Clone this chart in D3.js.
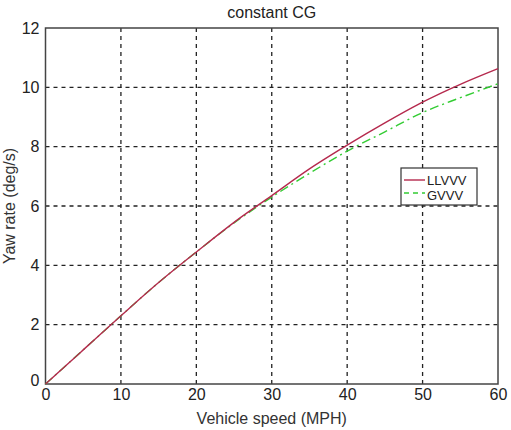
<!DOCTYPE html>
<html>
<head>
<meta charset="utf-8">
<script src="https://cdn.jsdelivr.net/npm/d3@7"></script>
<style>
body { margin: 0; background: #fff; }
</style>
</head>
<body>
<div id="chart"></div>
<script>
const speed = [0, 5, 10, 15, 20, 25, 30, 35, 40, 45, 50, 55, 60];
const llvvv = [0, 1.15, 2.3, 3.42, 4.45, 5.45, 6.35, 7.25, 8.05, 8.8, 9.5, 10.1, 10.63];
const gvvv = [0, 1.15, 2.3, 3.42, 4.45, 5.43, 6.3, 7.1, 7.85, 8.5, 9.15, 9.65, 10.12];
const xTicks = [0, 10, 20, 30, 40, 50, 60];
const yTicks = [0, 2, 4, 6, 8, 10, 12];

const W = 511, H = 430;
const margin = { top: 28, right: 13, bottom: 46, left: 45.5 },
	width = W - margin.left - margin.right,
	height = H - margin.top - margin.bottom;

const svg = d3.select("#chart").append("svg")
	.attr("width", W).attr("height", H)
	.style("font-family", "Arial, 'Liberation Sans', sans-serif");

const g = svg.append("g").attr("transform", `translate(${margin.left},${margin.top})`);

const x = d3.scaleLinear().domain([0, 60]).range([0, width]);
const y = d3.scaleLinear().domain([0, 12]).range([height, 0]);

// grid
g.append("g").selectAll("line").data(xTicks.slice(1, -1)).enter().append("line")
	.attr("x1", d => x(d)).attr("x2", d => x(d)).attr("y1", 0).attr("y2", height)
	.attr("stroke", "#222").attr("stroke-width", 1.3).attr("stroke-dasharray", "4,4");
g.append("g").selectAll("line").data(yTicks.slice(1, -1)).enter().append("line")
	.attr("y1", d => y(d)).attr("y2", d => y(d)).attr("x1", 0).attr("x2", width)
	.attr("stroke", "#222").attr("stroke-width", 1.3).attr("stroke-dasharray", "4,4");

// axes
const xAxis = g.append("g").attr("transform", `translate(0,${height})`)
	.call(d3.axisBottom(x).tickValues(xTicks).tickSize(0).tickPadding(5));
const yAxis = g.append("g")
	.call(d3.axisLeft(y).tickValues(yTicks).tickSize(0).tickPadding(6));
[xAxis, yAxis].forEach(a => {
	a.select(".domain").remove();
	a.selectAll("text").style("font-size", "16px").attr("fill", "#222");
});
yAxis.selectAll("text").filter(d => d === 0).attr("dy", "0.1em");

g.append("rect").attr("width", width).attr("height", height)
	.attr("fill", "none").attr("stroke", "#444").attr("stroke-width", 1.5);

// series
const line = (vals) => d3.line().curve(d3.curveMonotoneX)
	.x((d, i) => x(speed[i])).y(d => y(d))(vals);

g.append("path").attr("d", line(gvvv)).attr("fill", "none")
	.attr("stroke", "#33cc33").attr("stroke-width", 1.4).attr("stroke-dasharray", "9,4,2,4");
g.append("path").attr("d", line(llvvv)).attr("fill", "none")
	.attr("stroke", "#b5294d").attr("stroke-width", 1.4);

// legend
const leg = svg.append("g").attr("transform", "translate(401,168)");
leg.append("rect").attr("width", 76).attr("height", 37).attr("fill", "#fff")
	.attr("stroke", "#333").attr("stroke-width", 1.2);
leg.append("line").attr("x1", 3).attr("x2", 24).attr("y1", 12).attr("y2", 12)
	.attr("stroke", "#b5294d").attr("stroke-width", 1.4);
leg.append("line").attr("x1", 3).attr("x2", 24).attr("y1", 25).attr("y2", 25)
	.attr("stroke", "#33cc33").attr("stroke-width", 1.4).attr("stroke-dasharray", "5,4");
leg.append("text").attr("x", 26).attr("y", 17).text("LLVVV").style("font-size", "13px").attr("fill", "#222");
leg.append("text").attr("x", 26).attr("y", 32).text("GVVV").style("font-size", "13px").attr("fill", "#222");

// labels
svg.append("text").attr("x", margin.left + width / 2).attr("y", 18)
	.attr("text-anchor", "middle").style("font-size", "16px").attr("fill", "#222").text("constant CG");
svg.append("text").attr("x", margin.left + width / 2).attr("y", 424)
	.attr("text-anchor", "middle").style("font-size", "16px").attr("fill", "#333").text("Vehicle speed (MPH)");
svg.append("text").attr("transform", `translate(15,${margin.top + height / 2}) rotate(-90)`)
	.attr("text-anchor", "middle").style("font-size", "16px").attr("fill", "#333").text("Yaw rate (deg/s)");
</script>
</body>
</html>
